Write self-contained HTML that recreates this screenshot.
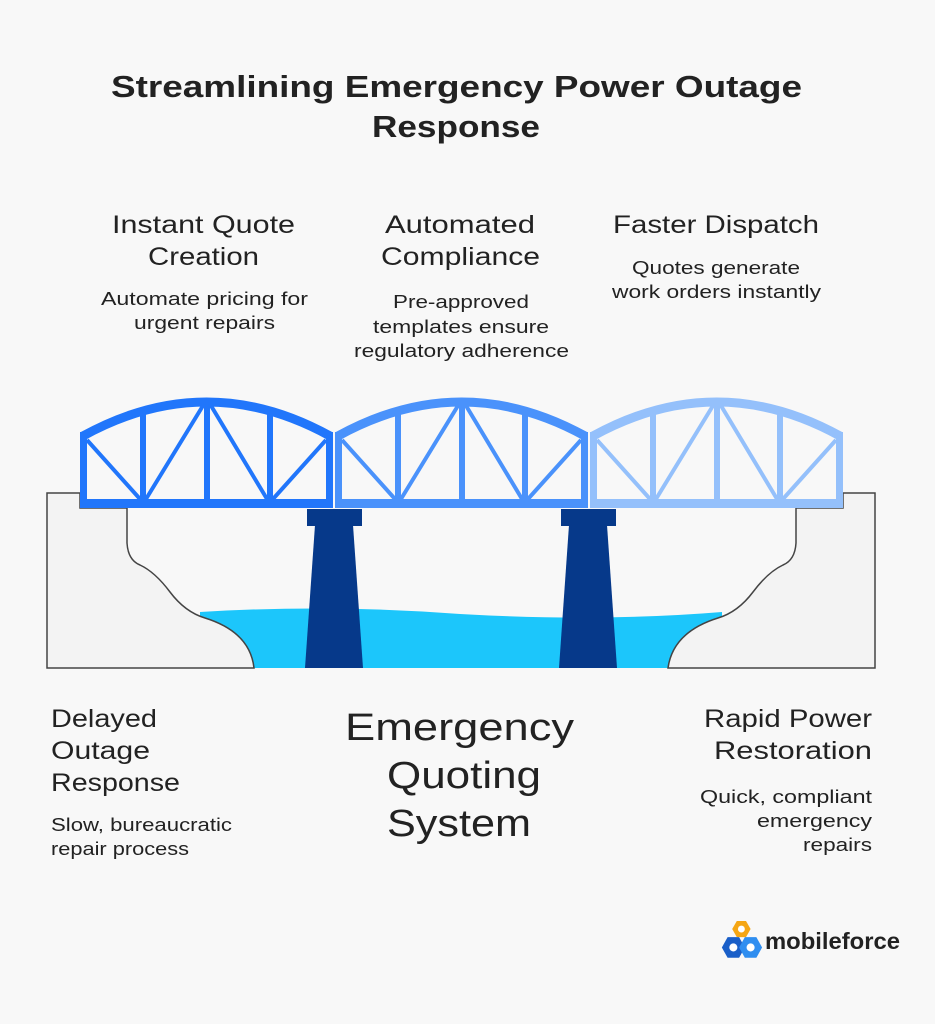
<!DOCTYPE html>
<html><head><meta charset="utf-8"><style>
html,body{margin:0;padding:0;background:#f8f8f8}
svg{display:block}
text{font-family:"Liberation Sans",sans-serif;fill:#222}
</style></head><body>
<svg width="935" height="1024" viewBox="0 0 935 1024" xmlns="http://www.w3.org/2000/svg">
<rect width="935" height="1024" fill="#f8f8f8"/>
<defs>
<g id="span">
  <path d="M3 436 Q126.5 368 250 436" fill="none" stroke="currentColor" stroke-width="9"/>
  <rect x="0" y="432" width="7" height="76" fill="currentColor"/>
  <rect x="246" y="432" width="7" height="76" fill="currentColor"/>
  <rect x="0" y="499" width="253" height="9" fill="currentColor"/>
  <rect x="60" y="410" width="6" height="92" fill="currentColor"/>
  <rect x="124" y="400" width="6" height="102" fill="currentColor"/>
  <rect x="187" y="410" width="6" height="92" fill="currentColor"/>
  <g stroke="currentColor" stroke-width="4" fill="none">
   <path d="M7 440 L60 499"/><path d="M66 499 L124 404"/><path d="M130 404 L187 499"/><path d="M193 499 L246 440"/>
  </g>
</g>
</defs>
<text x="111" y="97" textLength="691" lengthAdjust="spacingAndGlyphs" font-size="31" font-weight="bold" fill="#111">Streamlining Emergency Power Outage</text>
<text x="372" y="137" textLength="168" lengthAdjust="spacingAndGlyphs" font-size="31" font-weight="bold" fill="#111">Response</text>

<g font-size="25">
<text x="112" y="233" textLength="183" lengthAdjust="spacingAndGlyphs">Instant Quote</text>
<text x="148" y="265" textLength="111" lengthAdjust="spacingAndGlyphs">Creation</text>
<text x="385" y="233" textLength="150" lengthAdjust="spacingAndGlyphs">Automated</text>
<text x="381" y="265" textLength="159" lengthAdjust="spacingAndGlyphs">Compliance</text>
<text x="613" y="233" textLength="206" lengthAdjust="spacingAndGlyphs">Faster Dispatch</text>
</g>
<g font-size="18">
<text x="101" y="305" textLength="207" lengthAdjust="spacingAndGlyphs">Automate pricing for</text>
<text x="134" y="329" textLength="141" lengthAdjust="spacingAndGlyphs">urgent repairs</text>
<text x="393" y="308" textLength="136" lengthAdjust="spacingAndGlyphs">Pre-approved</text>
<text x="373" y="333" textLength="176" lengthAdjust="spacingAndGlyphs">templates ensure</text>
<text x="354" y="357" textLength="215" lengthAdjust="spacingAndGlyphs">regulatory adherence</text>
<text x="632" y="274" textLength="168" lengthAdjust="spacingAndGlyphs">Quotes generate</text>
<text x="612" y="298" textLength="209" lengthAdjust="spacingAndGlyphs">work orders instantly</text>
</g>

<path d="M200 612 Q330 604 460 614 Q600 622 722 612 L722 668 L200 668 Z" fill="#1cc6fb"/>
<path d="M47 493 L80 493 L80 508 L127 508 L127 543 Q128 560 140 565 Q155 572 170 592 Q185 612 205 618 Q250 632 254 668 L47 668 Z" fill="#f3f3f3" stroke="#444" stroke-width="1.5"/>
<path d="M875 493 L843 493 L843 508 L796 508 L796 543 Q795 560 783 565 Q768 572 753 592 Q738 612 718 618 Q673 632 668 668 L875 668 Z" fill="#f3f3f3" stroke="#444" stroke-width="1.5"/>
<g fill="#06398a">
<rect x="307" y="509" width="55" height="17"/><path d="M315 525 L353 525 L363 668 L305 668 Z"/>
<rect x="561" y="509" width="55" height="17"/><path d="M569 525 L607 525 L617 668 L559 668 Z"/>
</g>
<use href="#span" x="80" color="#2176fb"/>
<use href="#span" x="335" color="#4a92fb"/>
<use href="#span" x="590" color="#94c0fb"/>

<g font-size="25">
<text x="51" y="727" textLength="106" lengthAdjust="spacingAndGlyphs">Delayed</text>
<text x="51" y="759" textLength="99" lengthAdjust="spacingAndGlyphs">Outage</text>
<text x="51" y="791" textLength="129" lengthAdjust="spacingAndGlyphs">Response</text>
<text x="704" y="727" textLength="168" lengthAdjust="spacingAndGlyphs">Rapid Power</text>
<text x="714" y="759" textLength="158" lengthAdjust="spacingAndGlyphs">Restoration</text>
</g>
<g font-size="18">
<text x="51" y="831" textLength="181" lengthAdjust="spacingAndGlyphs">Slow, bureaucratic</text>
<text x="51" y="855" textLength="138" lengthAdjust="spacingAndGlyphs">repair process</text>
<text x="700" y="803" textLength="172" lengthAdjust="spacingAndGlyphs">Quick, compliant</text>
<text x="757" y="827" textLength="115" lengthAdjust="spacingAndGlyphs">emergency</text>
<text x="803" y="851" textLength="69" lengthAdjust="spacingAndGlyphs">repairs</text>
</g>
<g font-size="38">
<text x="345" y="740" textLength="229" lengthAdjust="spacingAndGlyphs">Emergency</text>
<text x="387" y="788" textLength="154" lengthAdjust="spacingAndGlyphs">Quoting</text>
<text x="387" y="836" textLength="144" lengthAdjust="spacingAndGlyphs">System</text>
</g>

<g transform="translate(723,921) scale(1.15)">
<path d="M12 0 L20 0 L24 7 L20 14 L12 14 L8 7 Z" fill="#f5a614"/>
<path d="M4 14 L14 14 L19 23 L14 32 L4 32 L-1 23 Z" fill="#1a5fc8"/>
<path d="M19 14 L29 14 L34 23 L29 32 L19 32 L14 23 Z" fill="#2f8ef0"/>
<circle cx="9" cy="23" r="3.5" fill="#fff"/><circle cx="24" cy="23" r="3.5" fill="#fff"/><circle cx="16" cy="7" r="3" fill="#fff"/>
</g>
<text x="765" y="949" font-size="23" font-weight="bold" fill="#111" textLength="135" lengthAdjust="spacingAndGlyphs">mobileforce</text>
</svg>
</body></html>
